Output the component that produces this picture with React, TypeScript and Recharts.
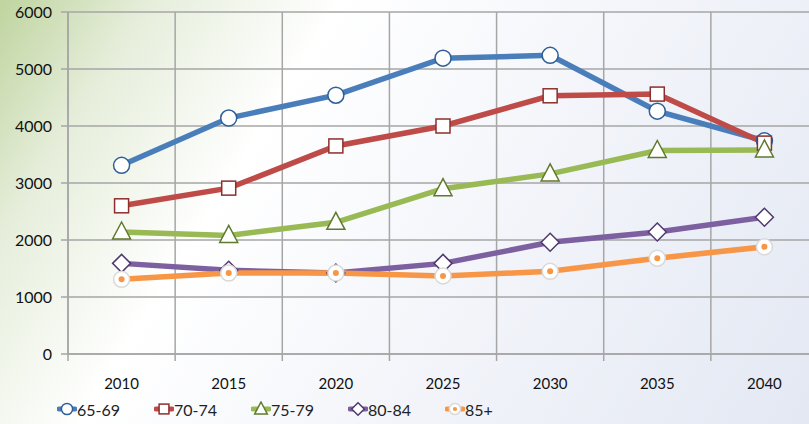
import React from 'react';
import { LineChart, Line, XAxis, YAxis, CartesianGrid, Legend } from 'recharts';

const years = ['2010', '2015', '2020', '2025', '2030', '2035', '2040'];
const age6569 = [3310, 4140, 4540, 5190, 5240, 4260, 3740];
const age7074 = [2600, 2910, 3650, 4000, 4530, 4560, 3700];
const age7579 = [2140, 2080, 2310, 2900, 3160, 3570, 3580];
const age8084 = [1590, 1470, 1420, 1590, 1960, 2140, 2400];
const age85 = [1310, 1420, 1420, 1370, 1450, 1680, 1880];
const yTicks = [0, 1000, 2000, 3000, 4000, 5000, 6000];

const FONT = 'Lato, "Open Sans", sans-serif';
const GRID = '#a6a6a6';

type Shape = 'circle' | 'square' | 'triangle' | 'diamond' | 'dotCircle';

const series: { key: string; name: string; values: number[]; color: string; edge: string; shape: Shape }[] = [
  { key: 'a', name: '65-69', values: age6569, color: '#4a7ebb', edge: '#2f5f98', shape: 'circle' },
  { key: 'b', name: '70-74', values: age7074, color: '#be4b48', edge: '#8c2f2d', shape: 'square' },
  { key: 'c', name: '75-79', values: age7579, color: '#98b954', edge: '#5f7a2c', shape: 'triangle' },
  { key: 'd', name: '80-84', values: age8084, color: '#7d60a0', edge: '#4f3a6e', shape: 'diamond' },
  { key: 'e', name: '85+', values: age85, color: '#f79646', edge: '#d9d9d9', shape: 'dotCircle' },
];

const data = years.map((year, i) => {
  const row: Record<string, any> = { year };
  series.forEach((s) => (row[s.key] = s.values[i]));
  return row;
});

function marker(shape: Shape, cx: number, cy: number, color: string, edge: string, s = 1) {
  switch (shape) {
    case 'circle':
      return <circle cx={cx} cy={cy} r={8 * s} fill="#fff" stroke={edge} strokeWidth={1.5} />;
    case 'square':
      return (
        <rect x={cx - 7 * s} y={cy - 7 * s} width={14 * s} height={14 * s} fill="#fff" stroke={edge} strokeWidth={1.5} />
      );
    case 'triangle':
      return (
        <polygon
          points={`${cx},${cy - 10 * s} ${cx + 9 * s},${cy + 7 * s} ${cx - 9 * s},${cy + 7 * s}`}
          fill="#fff"
          stroke={edge}
          strokeWidth={1.5}
        />
      );
    case 'diamond':
      return (
        <polygon
          points={`${cx},${cy - 9 * s} ${cx + 9 * s},${cy} ${cx},${cy + 9 * s} ${cx - 9 * s},${cy}`}
          fill="#fff"
          stroke={edge}
          strokeWidth={1.5}
        />
      );
    default:
      return (
        <g>
          <circle cx={cx} cy={cy} r={8 * s} fill="#fff" stroke={edge} strokeWidth={1.5} />
          <circle cx={cx} cy={cy} r={3 * s} fill={color} />
        </g>
      );
  }
}

const makeDot = (shape: Shape, color: string, edge: string) => (props: any) => (
  <g key={`${shape}-${props.index}`}>{marker(shape, props.cx, props.cy, color, edge)}</g>
);

// year label plus the small tick marks on the band edges
const YearTick = (props: any) => {
  const { x, y, payload, index, width } = props;
  const half = (width || 750) / years.length / 2;
  const top = y - 24;
  return (
    <g>
      <line x1={x - half} y1={top} x2={x - half} y2={top + 7} stroke={GRID} strokeWidth={1.5} />
      {index === years.length - 1 && (
        <line x1={x + half} y1={top} x2={x + half} y2={top + 7} stroke={GRID} strokeWidth={1.5} />
      )}
      <text x={x} y={y} dy="0.71em" textAnchor="middle" fill="#111" fontSize={15} fontFamily={FONT}>
        {payload.value}
      </text>
    </g>
  );
};

const LegendContent = () => (
  <div style={{ display: 'flex', paddingLeft: 57, height: 30, alignItems: 'center', fontFamily: FONT, fontSize: 16 }}>
    {series.map((s) => (
      <div key={s.key} style={{ width: 97, display: 'flex', alignItems: 'center' }}>
        <svg width={20} height={16}>
          <line x1={2} y1={8} x2={18} y2={8} stroke={s.color} strokeWidth={5} strokeLinecap="round" />
          {marker(s.shape, 10, 8, s.color, s.edge, 0.7)}
        </svg>
        <span style={{ color: '#222' }}>{s.name}</span>
      </div>
    ))}
  </div>
);

export default function App() {
  return (
    <div
      style={{
        position: 'absolute',
        left: 0,
        top: 0,
        width: 809,
        height: 424,
        overflow: 'hidden',
        background: 'linear-gradient(122deg, #bfd49f 0%, #e6eedb 14%, #ffffff 32%, #f3f5fa 60%, #e3e8f3 100%)',
      }}
    >
      <LineChart width={818} height={424} data={data} margin={{ top: 12, right: 0, left: 0, bottom: 0 }}>
        <CartesianGrid
          stroke={GRID}
          strokeWidth={1.5}
          verticalCoordinatesGenerator={({ offset }: any) =>
            years.map((_, i) => offset.left + (i * offset.width) / years.length)
          }
        />
        <XAxis
          dataKey="year"
          scale="band"
          height={40}
          axisLine={{ stroke: GRID, strokeWidth: 1.5 }}
          tickLine={false}
          tickMargin={18}
          tick={<YearTick />}
          interval={0}
        />
        <YAxis
          width={68}
          domain={[0, 6000]}
          ticks={yTicks}
          axisLine={{ stroke: GRID, strokeWidth: 1.5 }}
          tickLine={{ stroke: GRID, strokeWidth: 1.5 }}
          tickSize={7}
          tickMargin={9}
          tick={{ fill: '#111', fontSize: 16, fontFamily: FONT }}
        />
        <Legend verticalAlign="bottom" align="left" content={<LegendContent />} />
        {series.map((s) => (
          <Line
            key={s.key}
            type="linear"
            dataKey={s.key}
            name={s.name}
            stroke={s.color}
            strokeWidth={5.5}
            dot={makeDot(s.shape, s.color, s.edge)}
            activeDot={false}
            isAnimationActive={false}
          />
        ))}
      </LineChart>
    </div>
  );
}
